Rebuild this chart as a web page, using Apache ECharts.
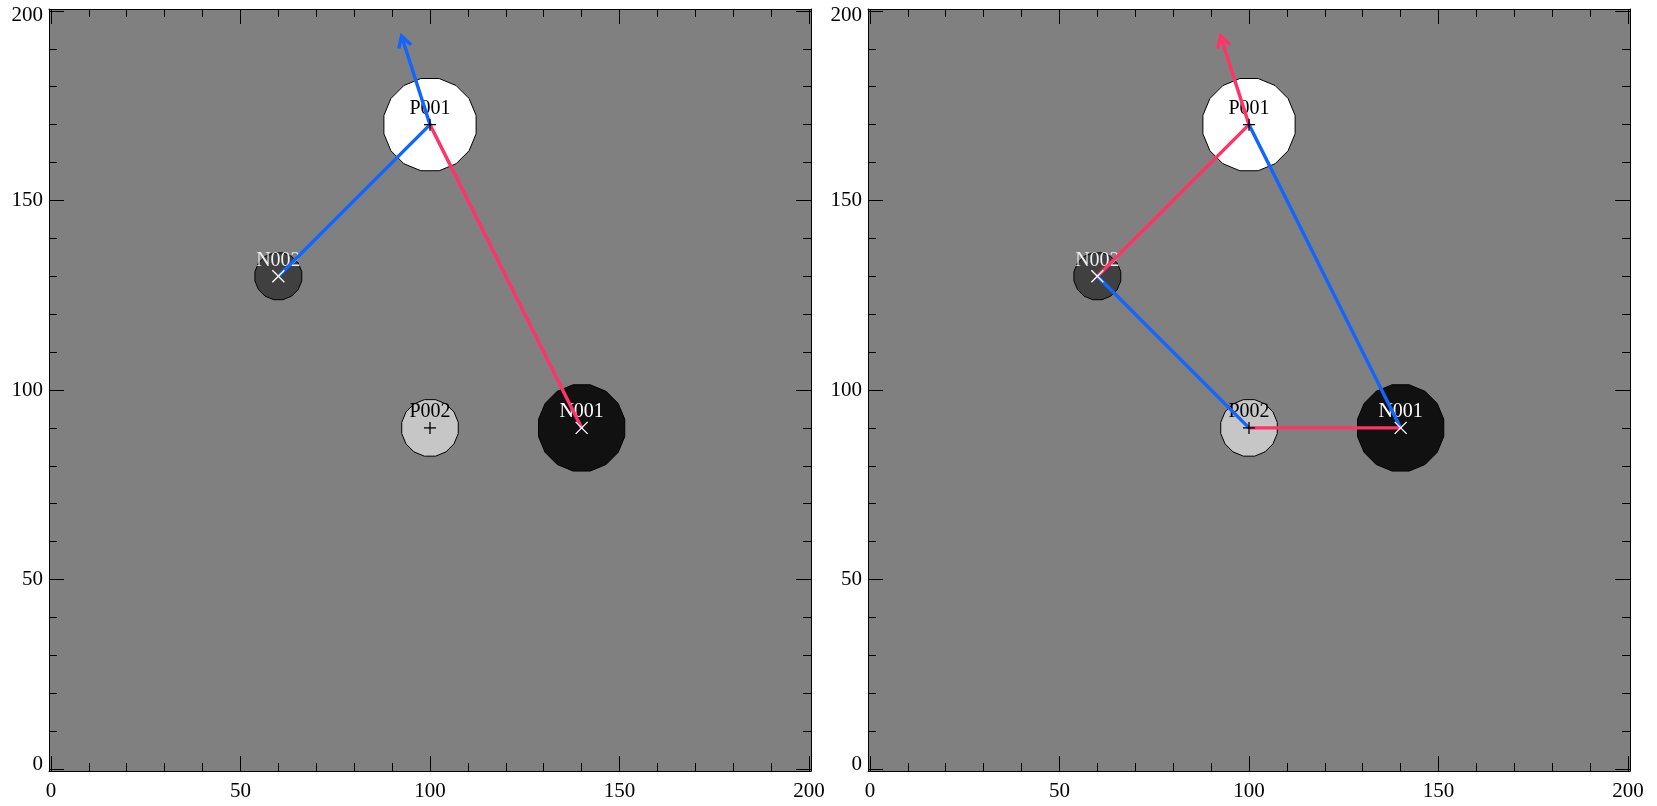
<!DOCTYPE html>
<html><head><meta charset="utf-8">
<script src="https://cdn.jsdelivr.net/npm/echarts@6/dist/echarts.min.js"></script>
<style>html,body{margin:0;padding:0;background:#fff}#chart{width:1657px;height:806px}</style>
</head><body><div id="chart"></div>
<script>
// ---- data ----
const sourceNames = ['P001', 'P002', 'N001', 'N002'];
const sourceX = [100, 100, 140, 60];
const sourceY = [170, 90, 90, 130];
const sourceRadius = [12.4, 7.6, 11.6, 6.3];
const sourceMarker = ['+', '+', 'x', 'x'];
const majorTicks = [0, 50, 100, 150, 200];
const minorTicks = [10, 20, 30, 40, 60, 70, 80, 90, 110, 120, 130, 140, 160, 170, 180, 190];
const axisMin = -0.5, axisMax = 200.5;
// paths (data coordinates)
const leftBluePath = [[60, 130], [100, 170], [92.5, 193.4]];
const leftRedPath = [[140, 90], [100, 170]];
const rightRedPath = [[60, 130], [100, 170], [92.5, 193.4]];
const rightBluePath1 = [[100, 170], [140, 90]];
const rightBluePath2 = [[60, 130], [100, 90]];
const rightRedPath2 = [[100, 90], [140, 90]];

// ---- styles ----
const BLUE = '#1166ff', RED = '#ff3366';
const FONT = '"Liberation Serif", "Times New Roman", serif';
const fillOf = { P001: '#ffffff', P002: '#c6c6c6', N001: '#111111', N002: '#404040' };
const textOf = { P001: '#000000', P002: '#000000', N001: '#ffffff', N002: '#eeeeee' };
const markerColorOf = { '+': '#000000', 'x': '#ffffff' };

const panels = [
  { left: 49, paths: [
      { pts: leftBluePath, color: BLUE, arrow: true },
      { pts: leftRedPath, color: RED, arrow: false } ] },
  { left: 868, paths: [
      { pts: rightRedPath, color: RED, arrow: true },
      { pts: rightBluePath1, color: BLUE, arrow: false },
      { pts: rightBluePath2, color: BLUE, arrow: false },
      { pts: rightRedPath2, color: RED, arrow: false } ] }
];

const grids = [], xAxes = [], yAxes = [], series = [];

function labelFmt(v) {
  if (v === 0) return '{lo|0}';
  if (v === 200) return '{hi|200}';
  return '{n|' + v + '}';
}
const richY = {
  n: { fontFamily: FONT, fontSize: 21, color: '#000' },
  lo: { fontFamily: FONT, fontSize: 21, color: '#000', padding: [0, 0, 9, 0] },
  hi: { fontFamily: FONT, fontSize: 21, color: '#000', padding: [9, 0, 0, 0] }
};

function axis(gridIndex, position, major, showLabel, isY) {
  const a = {
    type: 'value', gridIndex, position, min: axisMin, max: axisMax,
    splitLine: { show: false },
    axisLine: { show: major, onZero: false, lineStyle: { color: '#000', width: 1 } },
    axisTick: { show: true, inside: true, length: major ? 15 : 8,
      customValues: major ? majorTicks : minorTicks,
      lineStyle: { color: '#000', width: 1 } },
    axisLabel: { show: showLabel, customValues: majorTicks, color: '#000',
      fontFamily: FONT, fontSize: 21 }
  };
  if (showLabel) {
    if (isY) { a.axisLabel.margin = 6; a.axisLabel.formatter = labelFmt; a.axisLabel.rich = richY; }
    else { a.axisLabel.margin = 10; }
  }
  return a;
}

panels.forEach((p, gi) => {
  grids.push({ left: p.left, top: 9, width: 762, height: 762, show: true,
    backgroundColor: '#808080', borderWidth: 0 });
  const xi = xAxes.length, yi = yAxes.length;
  xAxes.push(axis(gi, 'bottom', true, true, false));
  xAxes.push(axis(gi, 'bottom', false, false, false));
  xAxes.push(axis(gi, 'top', true, false, false));
  xAxes.push(axis(gi, 'top', false, false, false));
  yAxes.push(axis(gi, 'left', true, true, true));
  yAxes.push(axis(gi, 'left', false, false, true));
  yAxes.push(axis(gi, 'right', true, false, true));
  yAxes.push(axis(gi, 'right', false, false, true));

  const srcData = sourceNames.map((n, i) => [sourceX[i], sourceY[i], sourceRadius[i], i]);

  // blobs with labels
  series.push({
    type: 'custom', coordinateSystem: 'cartesian2d', xAxisIndex: xi, yAxisIndex: yi,
    silent: true, z: 2, data: srcData,
    renderItem(params, api) {
      const i = api.value(3);
      const name = sourceNames[i];
      const c = api.coord([api.value(0), api.value(1)]);
      const r = api.size([api.value(2), 0])[0];
      const pts = [];
      for (let k = 0; k < 16; k++) {
        const ang = (k + 0.5) * Math.PI / 8;
        pts.push([c[0] + r * Math.cos(ang), c[1] + r * Math.sin(ang)]);
      }
      return { type: 'group', children: [
        { type: 'polygon', shape: { points: pts },
          style: { fill: fillOf[name], stroke: '#000', lineWidth: 1 } },
        { type: 'text', x: c[0], y: c[1] - 16,
          style: { text: name, fill: textOf[name], font: '20px ' + FONT,
            align: 'center', verticalAlign: 'middle' } }
      ] };
    }
  });

  // connecting lines
  series.push({
    type: 'custom', coordinateSystem: 'cartesian2d', xAxisIndex: xi, yAxisIndex: yi,
    silent: true, z: 3, data: p.paths.map((path, k) => [path.pts[0][0], path.pts[0][1], k]),
    renderItem(params, api) {
      const path = p.paths[api.value(2)];
      const pts = path.pts.map(q => api.coord(q));
      const children = [{ type: 'polyline', shape: { points: pts },
        style: { stroke: path.color, lineWidth: 3.4, fill: null, lineJoin: 'round' } }];
      if (path.arrow) {
        const tip = pts[pts.length - 1], prev = pts[pts.length - 2];
        let dx = prev[0] - tip[0], dy = prev[1] - tip[1];
        const L = Math.hypot(dx, dy); dx /= L; dy /= L;
        const len = 13, a = Math.PI / 6;
        const w = s => [tip[0] + len * (dx * Math.cos(s * a) - dy * Math.sin(s * a)),
                        tip[1] + len * (dx * Math.sin(s * a) + dy * Math.cos(s * a))];
        children.push({ type: 'polyline', shape: { points: [w(1), tip, w(-1)] },
          style: { stroke: path.color, lineWidth: 3.4, fill: null, lineJoin: 'miter' } });
      }
      return { type: 'group', children };
    }
  });

  // center markers
  series.push({
    type: 'custom', coordinateSystem: 'cartesian2d', xAxisIndex: xi, yAxisIndex: yi,
    silent: true, z: 4, data: srcData,
    renderItem(params, api) {
      const i = api.value(3);
      const m = sourceMarker[i];
      const c = api.coord([api.value(0), api.value(1)]);
      const h = 6, col = markerColorOf[m];
      const st = { stroke: col, lineWidth: 1.3 };
      const segs = m === '+'
        ? [[c[0] - h, c[1], c[0] + h, c[1]], [c[0], c[1] - h, c[0], c[1] + h]]
        : [[c[0] - h, c[1] - h, c[0] + h, c[1] + h], [c[0] - h, c[1] + h, c[0] + h, c[1] - h]];
      return { type: 'group', children: segs.map(s => ({ type: 'line',
        shape: { x1: s[0], y1: s[1], x2: s[2], y2: s[3] }, style: st })) };
    }
  });
});

const chart = echarts.init(document.getElementById('chart'), null, { renderer: 'canvas' });
chart.setOption({ animation: false, backgroundColor: '#ffffff',
  grid: grids, xAxis: xAxes, yAxis: yAxes, series });
</script></body></html>
